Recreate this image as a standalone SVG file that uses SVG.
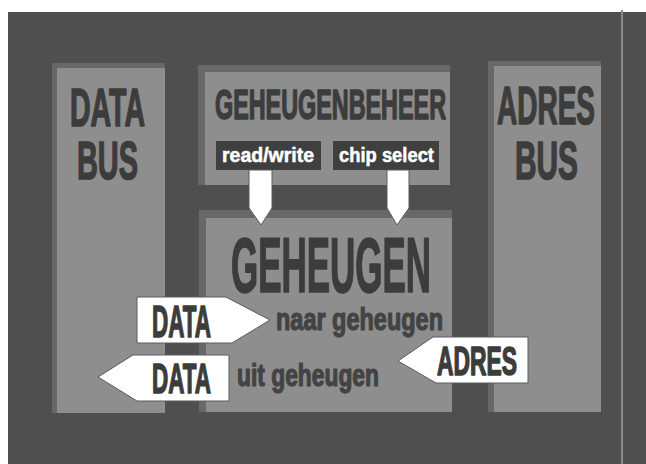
<svg xmlns="http://www.w3.org/2000/svg" width="646" height="464" viewBox="0 0 646 464">
  <style>
    .frame { fill: #686868; }
    .panel { fill: #8e8e8e; }
    .big { font-family: "Liberation Sans", "DejaVu Sans", sans-serif; font-weight: bold; fill: #3c3c3c; stroke: #3c3c3c; stroke-width: 1.6; stroke-linejoin: round; }
    .sig { fill: #3f3f3f; }
    .sigtxt { font-family: "Liberation Sans", "DejaVu Sans", sans-serif; font-weight: bold; fill: #ffffff; stroke: #ffffff; stroke-width: 0.5; font-size: 20px; }
    .arrow { fill: #ffffff; stroke: #5a5a5a; stroke-width: 1; }
    .lbl { font-family: "Liberation Sans", "DejaVu Sans", sans-serif; font-weight: bold; fill: #434343; stroke: #434343; stroke-width: 1.2; stroke-linejoin: round; }
  </style>
  <rect x="0" y="0" width="646" height="464" fill="#ffffff"/>
  <rect x="8" y="12" width="638" height="452" fill="#4f4f4f"/>
  <rect x="621" y="10" width="2" height="454" fill="#8a8a8a"/>

  <g id="databus">
    <rect class="frame" x="52" y="63" width="113" height="350"/>
    <rect class="panel" x="57" y="68" width="108" height="345"/>
    <text class="big" x="70" y="126" font-size="54" textLength="75" lengthAdjust="spacingAndGlyphs">DATA</text>
    <text class="big" x="77" y="179" font-size="54" textLength="61" lengthAdjust="spacingAndGlyphs">BUS</text>
  </g>

  <g id="geheugenbeheer">
    <rect class="frame" x="198" y="65" width="252" height="120"/>
    <rect class="panel" x="205" y="72" width="245" height="113"/>
    <text class="big" x="215" y="119" font-size="43" textLength="231" lengthAdjust="spacingAndGlyphs">GEHEUGENBEHEER</text>
    <g id="readwrite">
      <rect class="sig" x="216" y="141" width="105" height="29"/>
      <text class="sigtxt" x="222" y="162" textLength="92" lengthAdjust="spacingAndGlyphs">read/write</text>
    </g>
    <g id="chipselect">
      <rect class="sig" x="333" y="141" width="106" height="29"/>
      <text class="sigtxt" x="339" y="162" textLength="95" lengthAdjust="spacingAndGlyphs">chip select</text>
    </g>
  </g>

  <g id="geheugen">
    <rect class="frame" x="199" y="210" width="253" height="202"/>
    <rect class="panel" x="206" y="218" width="246" height="194"/>
    <text class="big" x="231" y="292" font-size="77" textLength="200" lengthAdjust="spacingAndGlyphs">GEHEUGEN</text>
    <text class="lbl" x="276" y="330" font-size="31" textLength="167" lengthAdjust="spacingAndGlyphs">naar geheugen</text>
    <text class="lbl" x="237" y="386" font-size="31" textLength="142" lengthAdjust="spacingAndGlyphs">uit geheugen</text>
  </g>

  <g id="adresbus">
    <rect class="frame" x="488" y="61" width="113" height="351"/>
    <rect class="panel" x="494" y="66" width="107" height="346"/>
    <text class="big" x="497" y="124" font-size="54" textLength="98" lengthAdjust="spacingAndGlyphs">ADRES</text>
    <text class="big" x="515" y="179" font-size="54" textLength="63" lengthAdjust="spacingAndGlyphs">BUS</text>
  </g>

  <g id="connectors">
    <polygon class="arrow" points="249,170 272,170 272,208 261,225 249,208"/>
    <polygon class="arrow" points="387,170 409,170 409,208 397,225 387,208"/>
    <g id="data-in">
      <polygon class="arrow" points="137,297 226,297 270,320 232,343 137,343"/>
      <text class="big" x="152" y="337" font-size="45" textLength="59" lengthAdjust="spacingAndGlyphs">DATA</text>
    </g>
    <g id="data-out">
      <polygon class="arrow" points="98,377 133,355 229,355 229,401 137,401"/>
      <text class="big" x="152" y="393" font-size="43" textLength="59" lengthAdjust="spacingAndGlyphs">DATA</text>
    </g>
    <g id="adres-in">
      <polygon class="arrow" points="398,361 433,337 528,337 528,383 436,383"/>
      <text class="big" x="437" y="375" font-size="40" textLength="80" lengthAdjust="spacingAndGlyphs">ADRES</text>
    </g>
  </g>
</svg>
